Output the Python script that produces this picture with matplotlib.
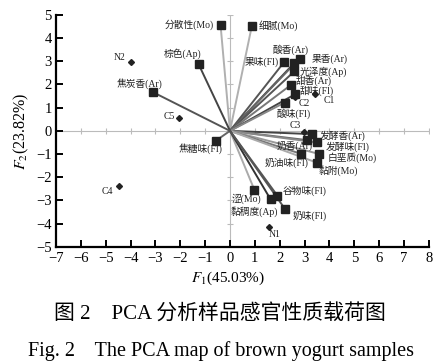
import matplotlib
matplotlib.use("Agg")
import matplotlib.pyplot as plt
import numpy as np

plt.rcParams['font.family'] = ['Liberation Serif', 'Noto Sans CJK SC']
plt.rcParams['mathtext.fontset'] = 'stix'
plt.rcParams['axes.unicode_minus'] = True

# loadings (sensory attributes)
attr_names = ['分散性(Mo)', '细腻(Mo)', '果味(Fl)', '酸香(Ar)', '果香(Ar)', '光泽度(Ap)',
              '甜香(Ar)', '甜味(Fl)', '酸味(Fl)', '发酵香(Ar)', '奶香(Ar)', '发酵味(Fl)',
              '白垩质(Mo)', '奶油味(Fl)', '黏附(Mo)', '谷物味(Fl)', '涩(Mo)', '黏稠度(Ap)',
              '奶味(Fl)', '焦糖味(Fl)', '棕色(Ap)', '焦炭香(Ar)']
attr_x = [-0.38, 0.88, 2.18, 2.58, 2.80, 2.58, 2.45, 2.62, 2.20, 3.29, 3.10, 3.49,
          3.56, 2.85, 3.49, 1.91, 0.98, 1.63, 2.20, -0.56, -1.26, -3.10]
attr_y = [4.57, 4.53, 2.97, 2.92, 3.12, 2.56, 1.98, 1.58, 1.22, -0.14, -0.40, -0.50,
          -0.99, -0.99, -1.37, -2.80, -2.54, -2.95, -3.35, -0.42, 2.87, 1.67]
attr_line = ['#b0b0b0', '#b0b0b0', '#555555', '#444444', '#666666', '#555555',
             '#777777', '#444444', '#888888', '#444444', '#666666', '#888888',
             '#999999', '#777777', '#aaaaaa', '#555555', '#aaaaaa', '#333333',
             '#555555', '#666666', '#444444', '#555555']
# label offsets in pixels and alignment
attr_off = [(-7, 0, 'right'), (7, 0, 'left'), (-5, 0, 'right'), (-4, 13, 'center'),
            (12, 0, 'left'), (5, 0, 'left'), (5, 4, 'left'), (4, 3, 'left'),
            (9, -11, 'center'), (8, -2, 'left'), (-12, -6, 'center'), (9, -4, 'left'),
            (9, -4, 'left'), (-14, -9, 'center'), (2, -8, 'left'), (5, 5, 'left'),
            (-8, -9, 'center'), (-16, -12, 'center'), (8, -7, 'left'), (-15, -8, 'center'),
            (-16, 11, 'center'), (-13, 9, 'center')]

# scores (samples)
samp_names = ['N2', 'C5', 'C4', 'N1', 'C1', 'C2', 'C3']
samp_x = [-4.00, -2.06, -4.45, 1.57, 3.41, 2.61, 2.98]
samp_y = [2.99, 0.57, -2.37, -4.15, 1.58, 1.46, -0.07]
samp_off = [(-5, 4, 'right'), (-4, 1, 'right'), (-12, -6, 'center'), (0, -7, 'left'),
            (9, -6, 'left'), (4, -6, 'left'), (-9, 7, 'center')]

fig = plt.figure(figsize=(4.44, 3.64), dpi=100)
ax = fig.add_axes([0.126, 0.322, 0.840, 0.637])

# inner cross through origin
ax.axhline(0, color='#bbbbbb', lw=0.8, zorder=1)
ax.axvline(0, color='#bbbbbb', lw=0.8, zorder=1)
ax.plot(np.arange(-7, 9), np.zeros(16), ls='none', marker='|', ms=4, color='#bbbbbb', mew=0.8)
ax.plot(np.zeros(11), np.arange(-5, 6), ls='none', marker='_', ms=4, color='#bbbbbb', mew=0.8)

for x, y, c in zip(attr_x, attr_y, attr_line):
    ax.plot([0, x], [0, y], color=c, lw=1.4, zorder=2)
ax.plot(attr_x, attr_y, ls='none', marker='s', ms=5.5, color='#222222', zorder=3)
ax.plot(samp_x, samp_y, ls='none', marker='D', ms=3, color='#222222', zorder=3)

for name, x, y, (dx, dy, ha) in zip(attr_names, attr_x, attr_y, attr_off):
    ax.annotate(name, (x, y), xytext=(dx, dy), textcoords='offset pixels',
                ha=ha, va='center', fontsize=7, color='#222222')
for name, x, y, (dx, dy, ha) in zip(samp_names, samp_x, samp_y, samp_off):
    ax.annotate(name, (x, y), xytext=(dx, dy), textcoords='offset pixels',
                ha=ha, va='center', fontsize=7, color='#222222')

ax.set_xlim(-7, 8)
ax.set_ylim(-5, 5)
ax.set_xticks(range(-7, 9))
ax.set_yticks(range(-5, 6))
ax.spines['top'].set_visible(False)
ax.spines['right'].set_visible(False)
ax.spines['left'].set_linewidth(1.6)
ax.spines['bottom'].set_linewidth(1.6)
ax.tick_params(direction='in', length=5, width=1.4, labelsize=10.5)
ax.tick_params(axis='x', pad=4)
ax.tick_params(axis='y', pad=3)

ax.set_xlabel(r'$F_1$(45.03%)', fontsize=11, labelpad=2)
ax.xaxis.set_label_coords(0.46, -0.10)
ax.set_ylabel(r'$F_2$(23.82%)', fontsize=11.5, labelpad=4)

fig.text(0.495, 0.135, '图 2    PCA 分析样品感官性质载荷图', ha='center', va='center', fontsize=15)
fig.text(0.497, 0.036, 'Fig. 2    The PCA map of brown yogurt samples', ha='center', va='center', fontsize=14.5)

fig.savefig('out.png', dpi=100)
